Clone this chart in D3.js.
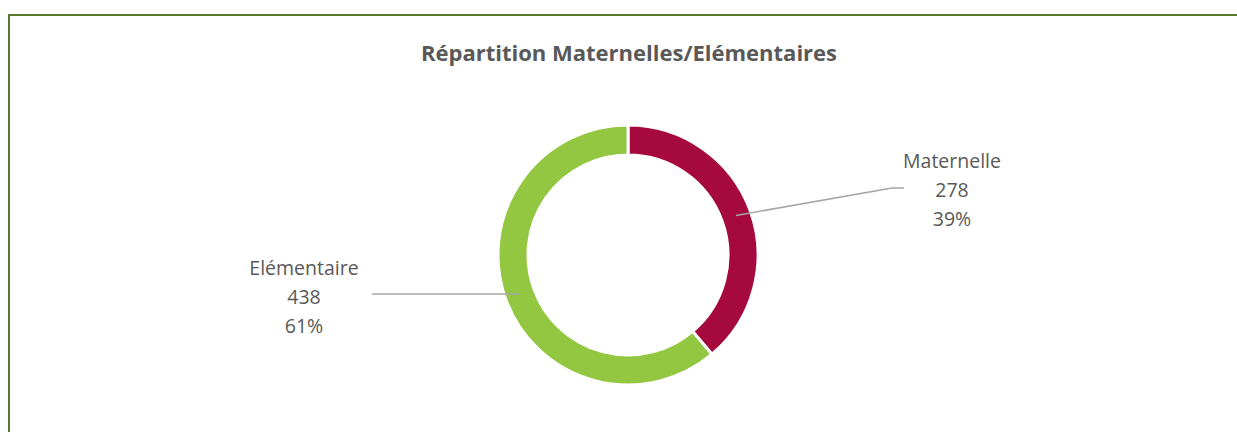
<!DOCTYPE html>
<html>
<head>
<meta charset="utf-8">
<script src="https://cdn.jsdelivr.net/npm/d3@7"></script>
<style>
  html, body { margin: 0; padding: 0; background: #fff; }
</style>
</head>
<body>
<div id="chart"></div>
<script>
const title = "Répartition Maternelles/Elémentaires";
const categories = ["Maternelle", "Elémentaire"];
const values = [278, 438];
const colors = ["#a5093d", "#93c741"];

const width = 1237;
const height = 432;
const cx = 628, cy = 255;
const outerR = 130, innerR = 100;
const midR = (outerR + innerR) / 2;

const svg = d3.select("#chart").append("svg")
    .attr("width", width)
    .attr("height", height)
    .attr("viewBox", [0, 0, width, height]);

// frame (right and bottom sides fall outside the picture)
svg.append("rect")
    .attr("x", 9).attr("y", 15)
    .attr("width", 1240).attr("height", 440)
    .attr("fill", "none")
    .attr("stroke", "#557a2c")
    .attr("stroke-width", 2);

svg.append("text")
    .attr("x", 629).attr("y", 61)
    .attr("text-anchor", "middle")
    .attr("font-family", "'Open Sans', sans-serif")
    .attr("font-weight", "bold")
    .attr("font-size", 22)
    .attr("fill", "#595959")
    .text(title);

const total = d3.sum(values);
const data = categories.map((c, i) => ({ name: c, value: values[i], color: colors[i] }));

const pie = d3.pie().sort(null).value(d => d.value);
const arcs = pie(data);
const arc = d3.arc().innerRadius(innerR).outerRadius(outerR);

const g = svg.append("g").attr("transform", `translate(${cx},${cy})`);

g.selectAll("path")
    .data(arcs)
    .join("path")
    .attr("d", arc)
    .attr("fill", d => d.data.color)
    .attr("stroke", "#fff")
    .attr("stroke-width", 3);

// label layout, relative to the donut centre
const labelLayout = [
    { x: 324, y: -87, elbowX: 264, lineY: -67, fromCentroid: true },
    { x: -324, y: 20, elbowX: -256, lineY: 39, fromCentroid: false }
];

const fmtPct = v => Math.round(v / total * 100) + "%";

arcs.forEach((a, i) => {
    const L = labelLayout[i];
    let start;
    if (L.fromCentroid) {
        const ang = (a.startAngle + a.endAngle) / 2;
        start = [midR * Math.sin(ang), -midR * Math.cos(ang)];
    } else {
        const side = L.x < 0 ? -1 : 1;
        start = [side * Math.sqrt(midR * midR - L.lineY * L.lineY), L.lineY];
    }
    const pts = L.fromCentroid
        ? [start, [L.elbowX, L.lineY], [L.elbowX + 12, L.lineY]]
        : [start, [L.elbowX, L.lineY]];
    g.append("path")
        .attr("d", d3.line()(pts))
        .attr("fill", "none")
        .attr("stroke", "#a6a6a6")
        .attr("stroke-width", 1.5);

    const t = g.append("text")
        .attr("x", L.x).attr("y", L.y)
        .attr("text-anchor", "middle")
        .attr("font-family", "'Open Sans', sans-serif")
        .attr("font-size", 19.5)
        .attr("fill", "#595959");
    [a.data.name, a.data.value, fmtPct(a.data.value)].forEach((s, k) => {
        t.append("tspan").attr("x", L.x).attr("dy", k === 0 ? 0 : 29).text(s);
    });
});
</script>
</body>
</html>
